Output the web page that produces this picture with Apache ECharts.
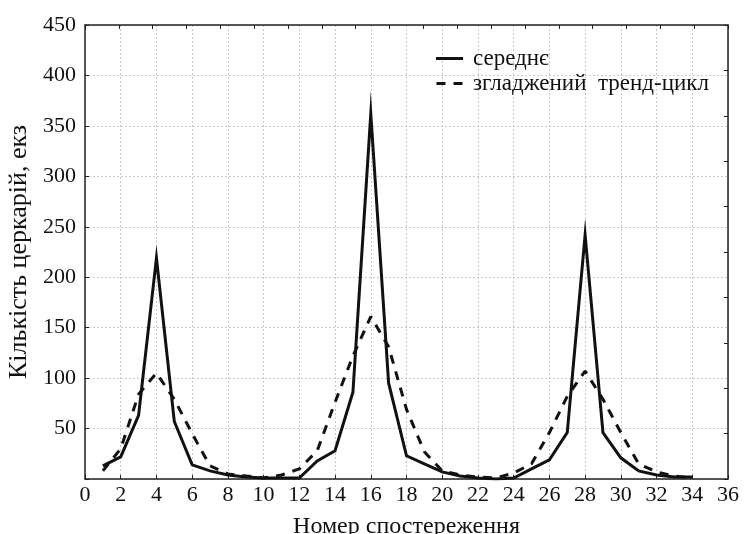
<!DOCTYPE html>
<html>
<head>
<meta charset="utf-8">
<script src="https://cdn.jsdelivr.net/npm/echarts@6/dist/echarts.min.js"></script>
<style>html,body{margin:0;padding:0;background:#fff}#c{width:745px;height:534px}</style>
</head>
<body>
<div id="c"></div>
<script>
var observations = [1,2,3,4,5,6,7,8,9,10,11,12,13,14,15,16,17,18,19,20,21,22,23,24,25,26,27,28,29,30,31,32,33,34];
var meanValues = [13,22,63,219,57,14,8,4,2,1,1,1,18,28,86,362,95,23,15,7,3,1,0,1,10,19,46,242,46,21,8,4,2,2];
var trendValues = [8,30,84,105,79,45,13,5,3,1,4,10,28,76,122,161,131,69,27,8,4,2,1,6,15,46,82,107,79,46,15,7,3,1];
var xTicks = [0,2,4,6,8,10,12,14,16,18,20,22,24,26,28,30,32,34,36];
var yTicks = [0,50,100,150,200,250,300,350,400,450];
var seriesNames = ['середнє', 'згладжений  тренд-цикл'];

var FONT = 'Liberation Serif';
function pairs(vals){ return observations.map(function(x,i){ return [x, vals[i]]; }); }

var chart = echarts.init(document.getElementById('c'), null, {renderer:'canvas'});
chart.setOption({
  animation:false,
  backgroundColor:'#fff',
  textStyle:{fontFamily:FONT, color:'#000'},
  grid:{left:85, right:17, top:25, bottom:55, containLabel:false, outerBoundsMode:'none'},
  legend:{
    orient:'vertical', left:436, top:47, itemWidth:27, itemHeight:3, itemGap:2,
    padding:0,
    textStyle:{fontFamily:FONT, fontSize:23, color:'#111', lineHeight:20, padding:[0,0,0,5]},
    data:[
      {name:seriesNames[0], icon:'path://M0,0H27V3H0Z'},
      {name:seriesNames[1], icon:'path://M0,0H9V3H0Z M17,0H26V3H17Z'}
    ]
  },
  xAxis:[{
    type:'value', min:xTicks[0], max:xTicks[xTicks.length-1], interval:2,
    name:'Номер спостереження', nameLocation:'middle', nameGap:36,
    nameTextStyle:{fontFamily:FONT, fontSize:24, color:'#111'},
    axisLine:{lineStyle:{color:'#222', width:1.5}},
    axisTick:{inside:true, length:4, lineStyle:{color:'#222'}},
    axisLabel:{fontFamily:FONT, fontSize:22, color:'#111', margin:5},
    splitLine:{show:true, lineStyle:{color:'#c8c8c8', type:[2,2], width:1}}
  },{
    type:'value', position:'top', min:0, max:19, interval:1,
    axisLine:{show:true, onZero:false, lineStyle:{color:'#222', width:1.5}},
    axisTick:{inside:true, length:4, lineStyle:{color:'#222'}},
    axisLabel:{show:false}, splitLine:{show:false}
  }],
  yAxis:[{
    type:'value', min:yTicks[0], max:yTicks[yTicks.length-1], interval:50,
    name:'Кількість церкарій, екз', nameLocation:'middle', nameGap:50,
    nameTextStyle:{fontFamily:FONT, fontSize:26, color:'#111'},
    axisLine:{show:true, lineStyle:{color:'#222', width:1.5}},
    axisTick:{show:true, inside:true, length:4, lineStyle:{color:'#222'}},
    axisLabel:{fontFamily:FONT, fontSize:22, color:'#111', margin:9,
      formatter:function(v){ return v===0 ? '' : String(v); }},
    splitLine:{show:true, lineStyle:{color:'#c8c8c8', type:[2,2], width:1}}
  },{
    type:'value', position:'right', min:0, max:10, interval:1,
    axisLine:{show:true, onZero:false, lineStyle:{color:'#222', width:1.5}},
    axisTick:{show:true, inside:true, length:4, lineStyle:{color:'#222'}},
    axisLabel:{show:false}, splitLine:{show:false}
  }],
  series:[{
    name:seriesNames[0], type:'line', xAxisIndex:0, yAxisIndex:0,
    data:pairs(meanValues), symbol:'none',
    lineStyle:{color:'#111', width:3, join:'miter', miterLimit:30},
    itemStyle:{color:'#111'}
  },{
    name:seriesNames[1], type:'line', xAxisIndex:0, yAxisIndex:0,
    data:pairs(trendValues), symbol:'none',
    lineStyle:{color:'#111', width:3, type:[9,8]},
    itemStyle:{color:'#111'}
  }]
});
</script>
</body>
</html>
